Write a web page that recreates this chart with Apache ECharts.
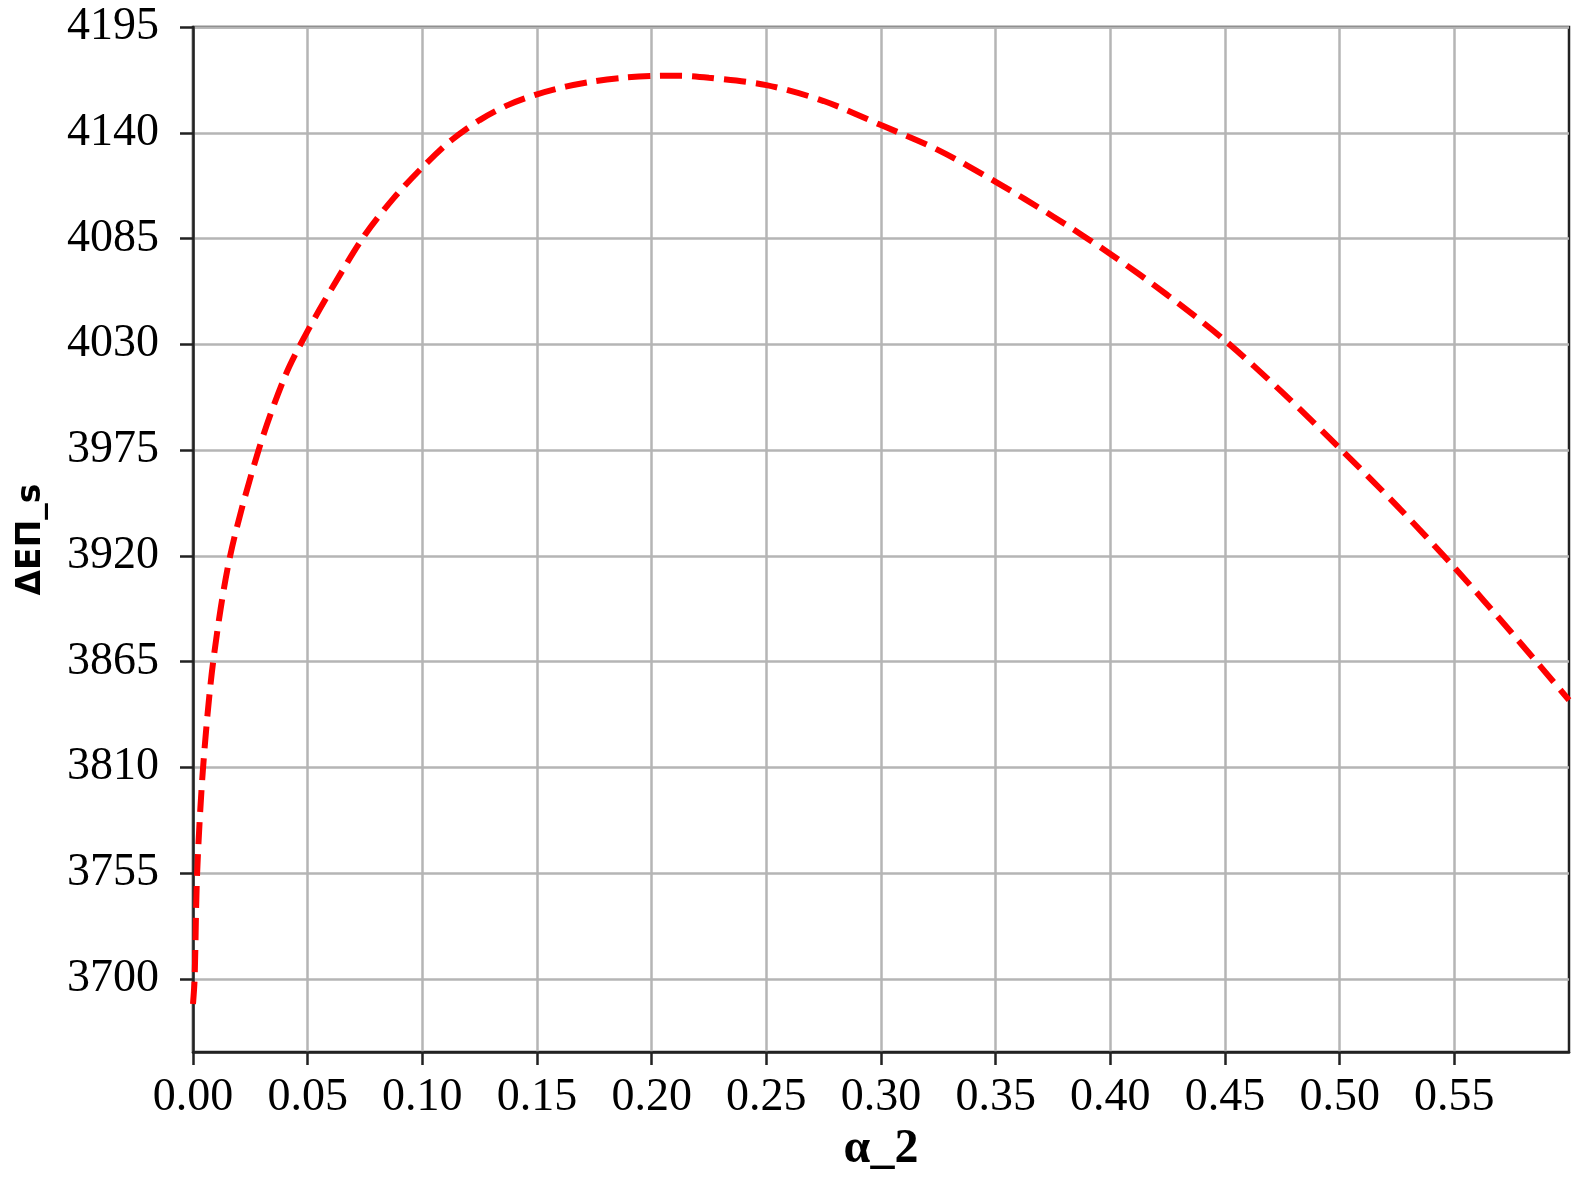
<!DOCTYPE html>
<html>
<head>
<meta charset="utf-8">
<script src="https://cdn.jsdelivr.net/npm/echarts@6/dist/echarts.min.js"></script>
<style>
  html, body { margin: 0; padding: 0; background: #fff; }
  #chart { width: 1575px; height: 1177px; }
</style>
</head>
<body>
<div id="chart"></div>
<script>
// values
const alphaValues = [0, 0.0007, 0.0018, 0.0044, 0.0088, 0.0162, 0.0286, 0.04, 0.05,
  0.0625, 0.075, 0.0875, 0.1, 0.1125, 0.125, 0.1375, 0.15, 0.1625, 0.175, 0.1875,
  0.2, 0.2125, 0.225, 0.25, 0.275, 0.3, 0.325, 0.35, 0.375, 0.4, 0.425, 0.45,
  0.475, 0.5, 0.525, 0.55, 0.575, 0.6];
const deltaPiValues = [3687, 3700, 3755, 3810, 3865, 3920, 3975, 4013, 4037,
  4063, 4087, 4106, 4122, 4136, 4146.6, 4154.5, 4160, 4164, 4166.8, 4168.6,
  4169.5, 4169.7, 4168.6, 4164.8, 4156.5, 4144, 4131, 4114.5, 4096.5, 4077, 4055.5, 4032,
  4005, 3976, 3946, 3914, 3880, 3845];

const xTicks = [0, 0.05, 0.1, 0.15, 0.2, 0.25, 0.3, 0.35, 0.4, 0.45, 0.5, 0.55];
const yTicks = [3700, 3755, 3810, 3865, 3920, 3975, 4030, 4085, 4140, 4195];

const points = alphaValues.map((a, i) => [a, deltaPiValues[i]]);

const serif = "'Liberation Serif', 'Times New Roman', serif";

let option = {
  animation: false,
  backgroundColor: "#fff",
  grid: {
    left: 193,
    top: 27,
    right: 6,
    bottom: 125,
    outerBoundsMode: "none",
    containLabel: false,
    show: true,
    borderColor: "#222",
    borderWidth: 2.5
  },
  xAxis: {
    type: "value",
    min: 0,
    max: 0.6,
    name: "α_2",
    nameLocation: "middle",
    nameGap: 66,
    nameTextStyle: {
      fontFamily: serif,
      fontSize: 48,
      fontWeight: "bold",
      color: "#000"
    },
    axisLine: { show: true, lineStyle: { color: "#222", width: 2.5 } },
    axisTick: {
      show: true,
      inside: false,
      length: 13,
      customValues: xTicks,
      lineStyle: { color: "#222", width: 2.5 }
    },
    axisLabel: {
      customValues: xTicks,
      margin: 23,
      fontFamily: serif,
      fontSize: 46,
      color: "#000",
      formatter: v => v.toFixed(2)
    },
    splitLine: { show: true, lineStyle: { color: "#b5b5b5", width: 2.5 } }
  },
  yAxis: {
    type: "value",
    min: 3662,
    max: 4195,
    name: "ΔΕΠ_s",
    nameLocation: "middle",
    nameGap: 145,
    nameTextStyle: {
      fontFamily: "'DejaVu Sans', sans-serif",
      fontSize: 33,
      fontWeight: "bold",
      color: "#000"
    },
    axisLine: { show: true, lineStyle: { color: "#222", width: 2.5 } },
    axisTick: {
      show: true,
      inside: false,
      length: 13,
      customValues: yTicks,
      lineStyle: { color: "#222", width: 2.5 }
    },
    axisLabel: {
      customValues: yTicks,
      margin: 34,
      fontFamily: serif,
      fontSize: 46,
      color: "#000",
      formatter: v => String(v)
    },
    splitLine: { show: true, lineStyle: { color: "#b5b5b5", width: 2.5 } }
  },
  series: [
    {
      type: "line",
      data: points,
      smooth: 0.3,
      showSymbol: false,
      clip: true,
      lineStyle: {
        color: "#ff0000",
        width: 6,
        type: [22, 10]
      }
    }
  ]
};

var myChart = echarts.init(document.getElementById("chart"));
myChart.setOption(option);
</script>
</body>
</html>
